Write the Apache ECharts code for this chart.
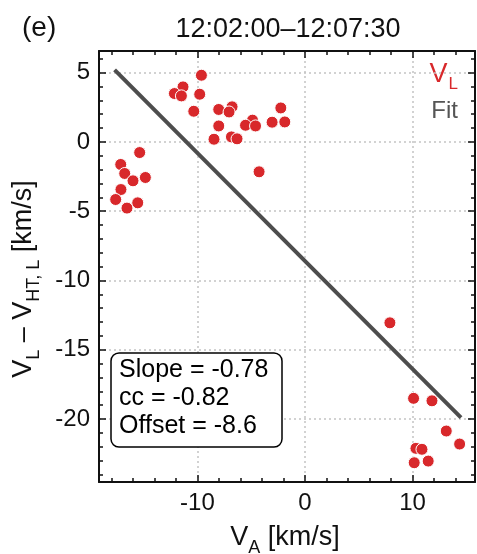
<!DOCTYPE html>
<html><head><meta charset="utf-8">
<script src="https://cdn.jsdelivr.net/npm/echarts@6/dist/echarts.min.js"></script>
<style>html,body{margin:0;padding:0;background:#fff}#c{width:477px;height:554px}</style>
</head><body><div id="c"></div>
<script>
// ---- data ----
const vaValues = [-9.63,-11.34,-12.14,-11.49,-9.79,-10.34,-8.02,-6.78,-7.06,-8.02,-8.46,-6.84,-6.32,-4.88,-5.53,-4.60,-3.06,-2.25,-1.88,-4.27,
  -15.37,-17.13,-16.76,-15.99,-14.84,-17.11,-17.60,-15.55,-16.55,
  7.89,10.09,11.80,13.13,14.37,10.31,10.87,10.15,11.45];
const vlValues = [4.81,3.97,3.49,3.32,3.44,2.21,2.34,2.53,2.16,1.15,0.19,0.36,0.22,1.57,1.20,1.15,1.42,2.45,1.44,-2.16,
  -0.77,-1.63,-2.28,-2.81,-2.57,-3.44,-4.16,-4.40,-4.78,
  -13.06,-18.51,-18.69,-20.87,-21.81,-22.12,-22.19,-23.16,-23.04];
const fitX = [-17.7, 14.5];
const fitY = [5.2, -19.9];
const xMajorTicks = [-10, 0, 10];
const xMinorTicks = [-18,-16,-14,-12,-8,-6,-4,-2,2,4,6,8,12,14];
const yMajorTicks = [-20, -15, -10, -5, 0, 5];
const yMinorTicks = [-24,-23,-22,-21,-19,-18,-17,-16,-14,-13,-12,-11,-9,-8,-7,-6,-4,-3,-2,-1,1,2,3,4,6];
const xRange = [-19.15, 15.8];
const yRange = [-24.55, 6.56];
const titleText = '12:02:00–12:07:30';
const statLines = ['Slope = -0.78', 'cc = -0.82', 'Offset = -8.6'];

const FONT = 'Liberation Sans, Arial, Helvetica, sans-serif';
const RED = '#d8282b';

function mkAxis(dim, pos, ticks, len, main, withLine) {
  const r = dim === 'x' ? xRange : yRange;
  return {
    type: 'value', position: pos, min: r[0], max: r[1],
    axisLine: { show: withLine, onZero: false, lineStyle: { color: '#111', width: 2 } },
    axisTick: { show: true, inside: true, length: len, customValues: ticks, lineStyle: { color: '#111', width: 1.5 } },
    axisLabel: main ? { show: true, customValues: ticks, fontSize: 24, color: '#111', fontFamily: FONT, margin: 9 } : { show: false },
    splitLine: main ? { show: true, lineStyle: { color: '#c4c4c4', width: 1.5, type: [2, 3] } } : { show: false },
    minorTick: { show: false }
  };
}

const scatterData = vaValues.map((v, i) => [v, vlValues[i]]);
const fitData = fitX.map((v, i) => [v, fitY[i]]);

const chart = echarts.init(document.getElementById('c'), null, { renderer: 'canvas' });
chart.setOption({
  animation: false,
  backgroundColor: '#fff',
  grid: { left: 99, right: 2, top: 51, bottom: 72, containLabel: false },
  xAxis: [
    mkAxis('x', 'bottom', xMajorTicks, 7, true, true),
    mkAxis('x', 'bottom', xMinorTicks, 4, false, false),
    mkAxis('x', 'top', xMajorTicks, 7, false, true),
    mkAxis('x', 'top', xMinorTicks, 4, false, false)
  ],
  yAxis: [
    mkAxis('y', 'left', yMajorTicks, 7, true, true),
    mkAxis('y', 'left', yMinorTicks, 4, false, false),
    mkAxis('y', 'right', yMajorTicks, 7, false, true),
    mkAxis('y', 'right', yMinorTicks, 4, false, false)
  ],
  series: [
    { type: 'scatter', xAxisIndex: 0, yAxisIndex: 0, data: scatterData, symbol: 'circle', symbolSize: 12,
      itemStyle: { color: RED, borderColor: '#fff', borderWidth: 1, opacity: 1 }, z: 3 },
    { type: 'line', xAxisIndex: 0, yAxisIndex: 0, data: fitData, symbol: 'none',
      lineStyle: { color: '#4d4d4d', width: 4 }, z: 4 }
  ],
  graphic: [
    { type: 'text', x: 22, y: 28, style: { text: '(e)', font: '28px ' + FONT, fill: '#111', verticalAlign: 'middle', align: 'left' } },
    { type: 'text', x: 288, y: 30, style: { text: titleText, font: '27px ' + FONT, fill: '#111', verticalAlign: 'middle', align: 'center' } },
    { type: 'text', x: 458, y: 75, style: { text: '{a|V}{s|L}', align: 'right', verticalAlign: 'middle',
        rich: { a: { fontSize: 27, fontFamily: FONT, fill: RED, color: RED, lineHeight: 36 },
                s: { fontSize: 17, fontFamily: FONT, fill: RED, color: RED, lineHeight: 17, padding: [19, 0, 0, 1] } } } },
    { type: 'text', x: 458, y: 111, style: { text: 'Fit', font: '24px ' + FONT, fill: '#555', align: 'right', verticalAlign: 'middle' } },
    { type: 'rect', shape: { x: 111, y: 353, width: 171, height: 94, r: 8 }, style: { fill: '#fff', stroke: '#000', lineWidth: 1.5 }, z: 10 },
    { type: 'text', x: 119, y: 370, z: 11, style: { text: statLines[0], font: '25px ' + FONT, fill: '#000', verticalAlign: 'middle' } },
    { type: 'text', x: 119, y: 398, z: 11, style: { text: statLines[1], font: '25px ' + FONT, fill: '#000', verticalAlign: 'middle' } },
    { type: 'text', x: 119, y: 426, z: 11, style: { text: statLines[2], font: '25px ' + FONT, fill: '#000', verticalAlign: 'middle' } },
    { type: 'text', x: 285, y: 538, style: { text: '{a|V}{s|A}{a| [km/s]}', align: 'center', verticalAlign: 'middle',
        rich: { a: { fontSize: 27, fontFamily: FONT, color: '#111', fill: '#111', lineHeight: 40 },
                s: { fontSize: 18, fontFamily: FONT, color: '#111', fill: '#111', lineHeight: 18, padding: [20, 0, 0, 0] } } } },
    { type: 'text', x: 24, y: 279, rotation: Math.PI / 2, style: { text: '{a|V}{s|L}{a| – V}{s|HT, L}{a| [km/s]}', align: 'center', verticalAlign: 'middle',
        rich: { a: { fontSize: 27, fontFamily: FONT, color: '#111', fill: '#111', lineHeight: 40 },
                s: { fontSize: 18, fontFamily: FONT, color: '#111', fill: '#111', lineHeight: 18, padding: [20, 0, 0, 0] } } } }
  ]
});
</script></body></html>
